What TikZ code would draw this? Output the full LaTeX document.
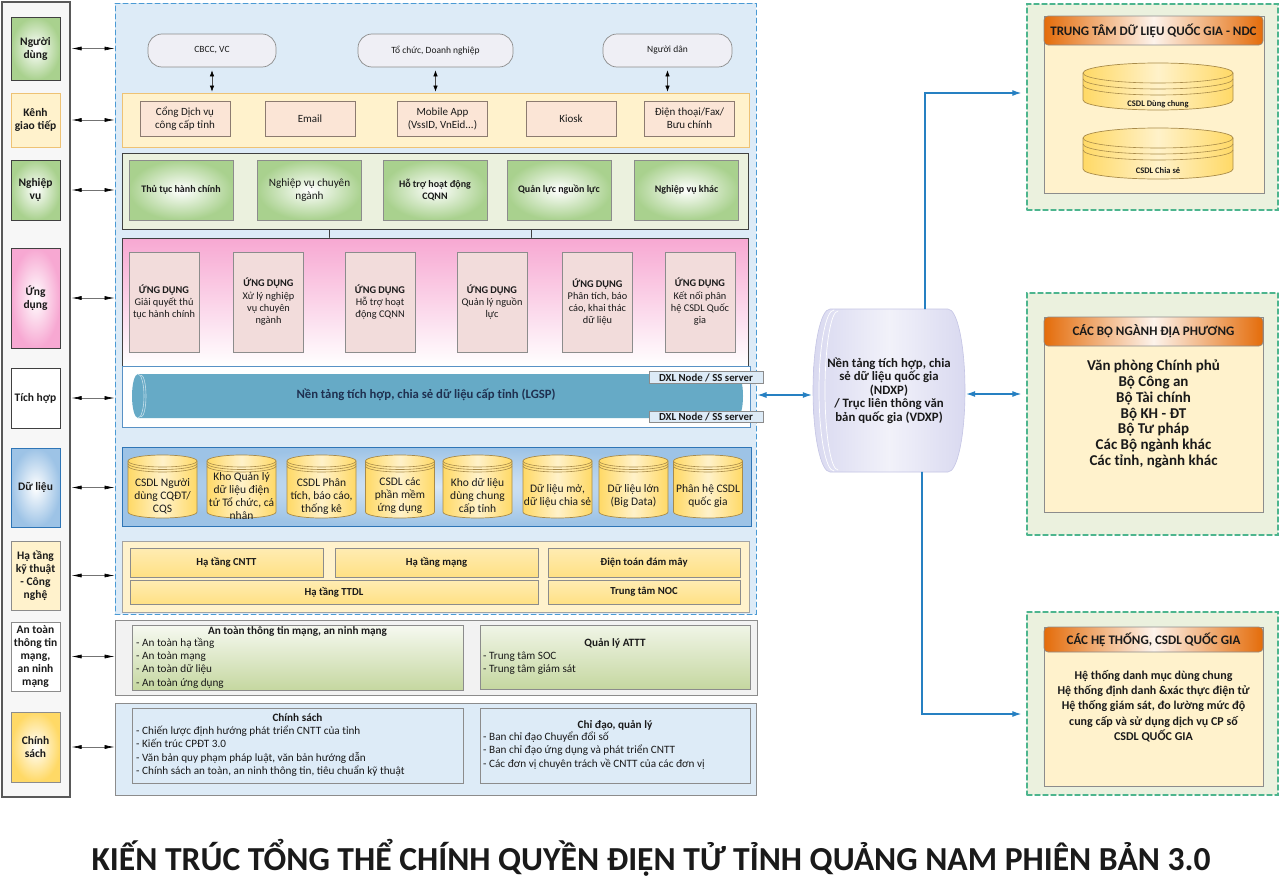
\documentclass[tikz,border=0pt]{standalone}
\usepackage{fontspec}
\setmainfont{Carlito}
\usetikzlibrary{arrows.meta}
\definecolor{ink}{HTML}{1A1A1A}
\definecolor{laneblue}{HTML}{DDEBF7}
\definecolor{dashblue}{HTML}{4A9AD4}
\definecolor{cream}{HTML}{FFF2CC}
\definecolor{creamedge}{HTML}{EEC274}
\definecolor{peach}{HTML}{FBE5D6}
\definecolor{peachedge}{HTML}{8C7B70}
\definecolor{leaf}{HTML}{A9D18E}
\definecolor{leafpale}{HTML}{EBF1DE}
\definecolor{sage}{HTML}{C5D7A0}
\definecolor{rose}{HTML}{F7A8D2}
\definecolor{rosebox}{HTML}{F2DCDB}
\definecolor{pipe}{HTML}{66AAC6}
\definecolor{pipetext}{HTML}{1F3050}
\definecolor{skyedge}{HTML}{2E75B6}
\definecolor{sky}{HTML}{9DC3E6}
\definecolor{gold}{HTML}{FFD966}
\definecolor{goldedge}{HTML}{A88B4A}
\definecolor{lilac}{HTML}{D9D9F0}
\definecolor{lilacedge}{HTML}{C5C5E5}
\definecolor{linkblue}{HTML}{2680C2}
\definecolor{mint}{HTML}{4DB58E}
\definecolor{orng}{HTML}{E46C0A}
\definecolor{actorfill}{HTML}{EFEFF5}
\definecolor{greyedge}{HTML}{8C8C8C}
\definecolor{darkedge}{HTML}{404040}
\tikzset{
  sz/.style 2 args={minimum width=#1pt, minimum height=#2pt},
  side/.style={draw=darkedge, line width=0.9pt, inner sep=1pt, align=center,
    font=\fontsize{11.5}{13}\selectfont\bfseries, text=ink},
  lane/.style={draw=darkedge, line width=0.9pt},
  actor/.style={draw=greyedge, fill=actorfill, line width=0.7pt, rounded corners=14pt,
    font=\fontsize{9.5}{11}\selectfont, text=ink},
  chan/.style={draw=peachedge, fill=peach, line width=0.8pt, align=center,
    font=\fontsize{11}{13}\selectfont, text=ink},
  task/.style={draw=greyedge, line width=0.8pt, inner color=white, outer color=leaf,
    align=center, sz={104}{60}, text=ink, font=\fontsize{10}{12.5}\selectfont\bfseries},
  app/.style={draw=greyedge, fill=rosebox, line width=0.8pt, align=center, inner sep=1pt,
    font=\fontsize{10.3}{12.3}\selectfont, text=ink},
  dxl/.style={draw=greyedge, fill=laneblue, line width=0.6pt, inner sep=0pt,
    font=\fontsize{10.8}{11}\selectfont\bfseries, text=ink},
  cyl/.style={draw=goldedge, line width=0.7pt, left color=gold, right color=gold, middle color=gold!35},
  cyltxt/.style={align=center, inner sep=0pt, font=\fontsize{11.5}{13}\selectfont, text=ink},
  infra/.style={draw=greyedge, line width=0.8pt, top color=gold!50, bottom color=gold!80,
    font=\fontsize{10.7}{12}\selectfont\bfseries, text=ink},
  secbox/.style={draw=greyedge, line width=0.8pt},
  headtxt/.style={font=\fontsize{11.2}{12}\selectfont\bfseries, text=ink, inner sep=0pt},
  listtxt/.style={align=left, anchor=north west, inner sep=0pt,
    font=\fontsize{11.2}{13.4}\selectfont, text=ink},
  hub/.style={draw=mint, dash pattern=on 5pt off 3pt, line width=1.4pt, fill=leafpale},
  panel/.style={draw=greyedge, line width=0.8pt, fill=cream},
  head/.style={draw=greyedge, line width=0.6pt, rounded corners=4pt, left color=orng,
    right color=orng, middle color=orng!8, font=\fontsize{13}{14}\selectfont\bfseries, text=ink},
  panelitem/.style={align=center, font=\fontsize{12}{15.3}\selectfont\bfseries, text=ink},
  biarrow/.style={draw=black!55, line width=0.6pt,
    {Latex[length=10pt,width=4pt,color=black]}-{Latex[length=10pt,width=4pt,color=black]}},
  updown/.style={draw=black!70, line width=0.6pt,
    {Latex[length=6pt,width=4.5pt,color=black]}-{Latex[length=6pt,width=4.5pt,color=black]}},
  link/.style={draw=linkblue, line width=1.1pt},
  linktip/.style={-{Latex[length=9pt,width=6pt]}},
  linkboth/.style={{Latex[length=9pt,width=6pt]}-{Latex[length=9pt,width=6pt]}},
}
\begin{document}
\begin{tikzpicture}[x=1pt, y=-1pt, line cap=round]
  \fill[white] (0,0) rectangle (1280,894);
  \useasboundingbox (0,0) rectangle (1280,894);

  % left column of layer names
  \node[draw=black!65, line width=1.3pt, fill=black!3, sz={68}{795}] (sidebar) at (36,399.5) {};
  \node[side, sz={49}{63}, inner color=white, outer color=leaf] (l1) at (35.5,48.5) {Người\\dùng};
  \node[side, sz={49}{54}, fill=cream, draw=creamedge] (l2) at (35.5,120) {Kênh\\giao tiếp};
  \node[side, sz={49}{60}, inner color=white, outer color=leaf] (l3) at (35.5,190) {Nghiệp\\vụ};
  \node[side, sz={49}{100}, inner color=white, outer color=rose] (l4) at (35.5,298) {Ứng\\dụng};
  \node[side, sz={49}{60}, fill=white] (l5) at (35.5,398) {Tích hợp};
  \node[side, sz={49}{79}, inner color=white, outer color=sky, draw=skyedge] (l6) at (35.5,487.5) {Dữ liệu};
  \node[side, sz={49}{69}, fill=cream, draw=greyedge] (l7) at (35.5,575.5) {Hạ tầng\\kỹ thuật\\- Công\\nghệ};
  \node[side, sz={49}{69}, fill=white, draw=greyedge] (l8) at (35.5,656.5) {An toàn\\thông tin\\mạng,\\an ninh\\mạng};
  \node[side, sz={49}{70}, inner color=white, outer color=gold, draw=greyedge] (l9) at (35.5,747) {Chính\\sách};

  % provincial core
  \node[draw=dashblue, dash pattern=on 5pt off 3pt, line width=1pt, fill=laneblue, sz={641}{611}] (core) at (435.5,308.5) {};

  % users
  \node[actor, sz={128}{33}] (u1) at (212,50.5) {CBCC, VC};
  \node[actor, sz={155}{33}] (u2) at (435.5,50.5) {Tổ chức, Doanh nghiệp};
  \node[actor, sz={129}{33}] (u3) at (667.5,50.5) {Người dân};

  % channels
  \node[fill=cream, draw=creamedge, line width=0.8pt, sz={627}{54}] (kenh) at (435.5,120) {};
  \foreach \cx/\txt [count=\i] in {185/{Cổng Dịch vụ\\công cấp tỉnh}, 310/Email,
      442.5/{Mobile App\\(VssID, VnEid...)}, 571/Kiosk, 689.5/{Điện thoại/Fax/\\Bưu chính}}
    \node[chan, sz={90}{35}] (k\i) at (\cx,118.5) {\txt};
  \foreach \u in {u1,u2,u3}
    \draw[updown, shorten <=3pt, shorten >=1pt] (\u.south) -- (\u.south |- kenh.north);

  % business
  \node[lane, fill=leafpale, sz={626}{76}] (nghiep) at (435,191) {};
  \node[task] (n1) at (181,190) {Thủ tục hành chính};
  \node[task, font=\fontsize{11.2}{13}\selectfont] (n2) at (309.5,190) {Nghiệp vụ chuyên\\ngành};
  \node[task] (n3) at (435,190) {Hỗ trợ hoạt động\\CQNN};
  \node[task] (n4) at (559,190) {Quản lực nguồn lực};
  \node[task] (n5) at (686.5,190) {Nghiệp vụ khác};

  % applications
  \node[lane, top color=rose, bottom color=white, sz={626}{128}] (ungdung) at (435,302) {};
  \draw[darkedge, line width=0.6pt] ([xshift=-106pt]nghiep.south) -- ([xshift=-106pt]ungdung.north);
  \draw[darkedge, line width=0.6pt] ([xshift=96pt]nghiep.south) -- ([xshift=96pt]ungdung.north);
  \foreach \cx/\txt [count=\i] in {164/{Giải quyết thủ\\tục hành chính}, 268.5/{Xử lý nghiệp\\vụ chuyên\\ngành},
      380/{Hỗ trợ hoạt\\động CQNN}, 492/{Quản lý nguồn\\lực}, 597.5/{Phân tích, báo\\cáo, khai thác\\dữ liệu},
      700/{Kết nối phân\\hệ CSDL Quốc\\gia}}
    \node[app, sz={70}{100}] (a\i) at (\cx,302) {\textbf{ỨNG DỤNG}\\\txt};

  % integration (LGSP)
  \node[draw=skyedge!80, line width=0.8pt, fill=white, sz={628}{61}] (tichhop) at (436,397) {};
  \fill[pipe] (138,374) -- (737,374) arc(90:-90:6pt and 22pt) -- (138,418) arc(270:90:6pt and 22pt) -- cycle;
  \draw[white!65!pipe, line width=0.6pt] (138,374) arc(90:-90:6pt and 22pt)
    (141,375) arc(90:-90:5pt and 21pt);
  \node[font=\fontsize{12.7}{14}\selectfont\bfseries, text=pipetext] (lgsp) at (426,395)
    {Nền tảng tích hợp, chia sẻ dữ liệu cấp tỉnh (LGSP)};
  \node[dxl, sz={114}{11.5}] (x1) at (706,377.5) {DXL Node / SS server};
  \node[dxl, sz={114}{11.5}] (x2) at (706,417) {DXL Node / SS server};

  % data
  \node[draw=skyedge, line width=0.8pt, inner color=sky!40, outer color=sky, sz={629}{79}] (dulieu) at (436.5,486.5) {};
  \foreach \cx/\txt [count=\i] in {162.5/{CSDL Người\\dùng CQĐT/\\CQS}, 241.5/{Kho Quản lý\\dữ liệu điện\\tử Tổ chức, cá\\nhân},
      321.5/{CSDL Phân\\tích, báo cáo,\\thống kê}, 400/{CSDL các\\phần mềm\\ứng dụng}, 477.5/{Kho dữ liệu\\dùng chung\\cấp tỉnh},
      557.5/{Dữ liệu mở,\\dữ liệu chia sẻ}, 633.5/{Dữ liệu lớn\\(Big Data)}, 708/{Phân hệ CSDL\\quốc gia}}{
    \path[cyl] (\cx-34.5,461) -- (\cx-34.5,512) arc(180:360:34.5pt and 6pt) -- (\cx+34.5,461)
      arc(0:180:34.5pt and 6pt) -- cycle;
    \draw[goldedge, line width=0.6pt] (\cx-34.5,461) arc(180:360:34.5pt and 6pt)
      (\cx-34.5,463.5) arc(180:360:34.5pt and 6pt) (\cx-34.5,466) arc(180:360:34.5pt and 6pt);
    \node[cyltxt] (d\i) at (\cx,496) {\txt};
  }

  % infrastructure
  \node[draw=greyedge!80, line width=0.8pt, fill=cream, sz={627}{71}] (hatang) at (435.5,576.5) {};
  \node[infra, sz={193}{29}] (h1) at (226.5,562.5) {Hạ tầng CNTT};
  \node[infra, sz={203}{29}] (h2) at (436.5,562.5) {Hạ tầng mạng};
  \node[infra, sz={192}{29}] (h3) at (644,562.5) {Điện toán đám mây};
  \node[infra, sz={408}{24}] (h4) at (334,592) {Hạ tầng TTDL};
  \node[infra, sz={192}{24}] (h5) at (644,592) {Trung tâm NOC};

  % security
  \node[draw=greyedge, line width=0.8pt, fill=black!5, sz={642}{75}] (antoan) at (436,657.5) {};
  \node[secbox, top color=white!85!sage, bottom color=sage, sz={331}{65}] (s1) at (297.5,657.5) {};
  \node[headtxt] (s1t) at (297.5,631.5) {An toàn thông tin mạng, an ninh mạng};
  \node[listtxt] (s1l) at (136,637.5) {- An toàn hạ tầng\\- An toàn mạng\\- An toàn dữ liệu\\- An toàn ứng dụng};
  \node[secbox, top color=white!75!sage, bottom color=sage, sz={270}{64}] (s2) at (615,657) {};
  \node[headtxt] (s2t) at (615,643) {Quản lý ATTT};
  \node[listtxt] (s2l) at (483,651.5) {- Trung tâm SOC\\- Trung tâm giám sát};

  % policy
  \node[draw=greyedge, line width=0.8pt, fill=laneblue, sz={641}{92}] (chinhsach) at (435.5,749) {};
  \node[secbox, fill=laneblue, sz={331}{75}] (c1) at (297.5,745.5) {};
  \node[headtxt] (c1t) at (297.5,718) {Chính sách};
  \node[listtxt] (c1l) at (136,725.5) {- Chiến lược định hướng phát triển CNTT của tỉnh\\- Kiến trúc CPĐT 3.0\\- Văn bản quy phạm pháp luật, văn bản hướng dẫn\\- Chính sách an toàn, an ninh thông tin, tiêu chuẩn kỹ thuật};
  \node[secbox, fill=laneblue, sz={270}{75}] (c2) at (615,745.5) {};
  \node[headtxt] (c2t) at (615,726) {Chỉ đạo, quản lý};
  \node[listtxt] (c2l) at (483,731.5) {- Ban chỉ đạo Chuyển đổi số\\- Ban chỉ đạo ứng dụng và phát triển CNTT\\- Các đơn vị chuyên trách về CNTT của các đơn vị};

  % layer arrows
  \foreach \r/\t in {l1/core, l2/core, l3/core, l4/core, l5/core, l6/core, l7/core, l8/antoan, l9/chinhsach}
    \draw[biarrow, shorten <=1pt] (sidebar.east |- \r) -- (\t.west |- \r);

  % national platform
  \path[left color=lilac, right color=lilac, middle color=lilac!35, draw=lilacedge, line width=0.6pt]
    (830,309) -- (948,309) arc(90:-90:17pt and 81.5pt) -- (830,472) arc(270:90:17pt and 81.5pt) -- cycle;
  \draw[white, line width=0.7pt] (834,310) arc(90:270:15pt and 80.5pt) (838,311) arc(90:270:13pt and 79.5pt);
  \node[sz={152}{163}, align=center, font=\fontsize{12.8}{13.4}\selectfont\bfseries, text=ink] (ndxp) at (889,390.5)
    {Nền tảng tích hợp, chia\\sẻ dữ liệu quốc gia\\(NDXP)\\/ Trục liên thông văn\\bản quốc gia (VDXP)};
  \coordinate (ndxpr) at ([yshift=-3.5pt]ndxp.east);

  % national side
  \node[hub, sz={251}{206}] (r1) at (1152.5,107) {};
  \node[panel, sz={220}{177}] (p1) at (1154,104.5) {};
  \node[head, sz={219}{29}] (t1) at (1153.5,30.5) {TRUNG TÂM DỮ LIỆU QUỐC GIA - NDC};
  \path[cyl] (1083,73) -- (1083,100) arc(180:360:75pt and 10pt) -- (1233,73) arc(0:180:75pt and 10pt) -- cycle;
  \draw[goldedge, line width=0.6pt] (1083,73) arc(180:360:75pt and 10pt) (1083,79) arc(180:360:75pt and 10pt)
    (1083,85) arc(180:360:75pt and 10pt);
  \node[font=\fontsize{8.5}{9}\selectfont\bfseries, text=ink] (db1) at (1158,104) {CSDL Dùng chung};
  \path[cyl] (1083,138) -- (1083,169) arc(180:360:75pt and 10pt) -- (1233,138) arc(0:180:75pt and 10pt) -- cycle;
  \draw[goldedge, line width=0.6pt] (1083,138) arc(180:360:75pt and 10pt) (1083,144) arc(180:360:75pt and 10pt)
    (1083,150) arc(180:360:75pt and 10pt);
  \node[font=\fontsize{8.5}{9}\selectfont\bfseries, text=ink] (db2) at (1158,171) {CSDL Chia sẻ};

  \node[hub, sz={251}{242}] (r2) at (1152.5,414) {};
  \node[panel, sz={219}{195}] (p2) at (1153.5,414.5) {};
  \node[head, sz={219}{29}] (t2) at (1153.5,331.5) {CÁC BỘ NGÀNH ĐỊA PHƯƠNG};
  \node[panelitem, font=\fontsize{15}{15.7}\selectfont\bfseries] (m2) at (1153.5,414) {Văn phòng Chính phủ\\Bộ Công an\\Bộ Tài chính\\Bộ KH - ĐT\\Bộ Tư pháp\\Các Bộ ngành khác\\Các tỉnh, ngành khác};

  \node[hub, sz={251}{183}] (r3) at (1152.5,703.5) {};
  \node[panel, sz={219}{159}] (p3) at (1153.5,706.5) {};
  \node[head, sz={219}{25}] (t3) at (1153.5,639.5) {CÁC HỆ THỐNG, CSDL QUỐC GIA};
  \node[panelitem] (m3) at (1153.5,706) {Hệ thống danh mục dùng chung\\Hệ thống định danh \&xác thực điện tử\\Hệ thống giám sát, đo lường mức độ\\cung cấp và sử dụng dịch vụ CP số\\CSDL QUỐC GIA};

  % blue links
  \draw[link, linkboth, shorten <=1pt, shorten >=1pt] (core.east |- lgsp) -- (ndxp.west |- lgsp);
  \draw[link, linkboth, shorten <=1pt, shorten >=5pt] (ndxpr) -- (r2.west |- ndxpr);
  \draw[link, linktip, shorten >=5pt] ([xshift=36pt]ndxp.north) |- ([yshift=14pt]r1.west);
  \draw[link, linktip, shorten >=5pt] ([xshift=33pt]ndxp.south) |- ([yshift=-10.5pt]r3.west);

  % title
  \node[font=\fontsize{33.6}{38}\selectfont\bfseries, text=ink] (title) at (651,858)
    {KIẾN TRÚC TỔNG THỂ CHÍNH QUYỀN ĐIỆN TỬ TỈNH QUẢNG NAM PHIÊN BẢN 3.0};
\end{tikzpicture}
\end{document}
